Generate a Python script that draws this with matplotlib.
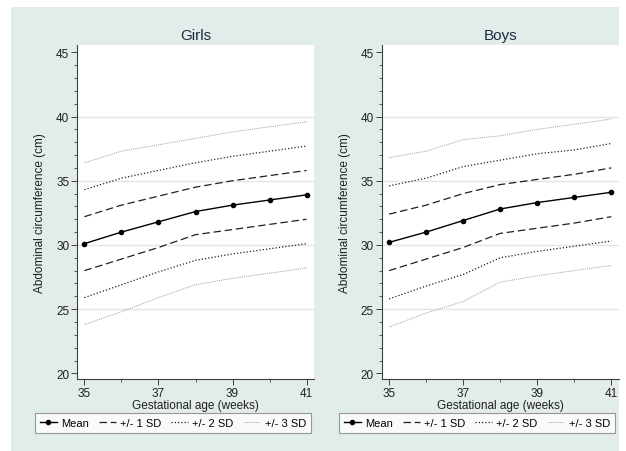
import matplotlib.pyplot as plt
import numpy as np
from matplotlib.patches import Rectangle

plt.rcParams['font.family'] = ['Liberation Sans', 'DejaVu Sans']

# gestational age (weeks)
weeks = [35, 36, 37, 38, 39, 40, 41]

# girls abdominal circumference (cm)
girls_mean = [30.1, 31.0, 31.8, 32.6, 33.1, 33.5, 33.9]
girls_p1 = [32.2, 33.1, 33.8, 34.5, 35.0, 35.4, 35.8]
girls_m1 = [28.0, 28.9, 29.8, 30.8, 31.2, 31.6, 32.0]
girls_p2 = [34.3, 35.2, 35.8, 36.4, 36.9, 37.3, 37.7]
girls_m2 = [25.9, 26.9, 27.9, 28.8, 29.3, 29.7, 30.1]
girls_p3 = [36.4, 37.3, 37.8, 38.3, 38.8, 39.2, 39.6]
girls_m3 = [23.8, 24.8, 25.9, 26.9, 27.4, 27.8, 28.2]

# boys abdominal circumference (cm)
boys_mean = [30.2, 31.0, 31.9, 32.8, 33.3, 33.7, 34.1]
boys_p1 = [32.4, 33.1, 34.0, 34.7, 35.1, 35.5, 36.0]
boys_m1 = [28.0, 28.9, 29.8, 30.9, 31.3, 31.7, 32.2]
boys_p2 = [34.6, 35.2, 36.1, 36.6, 37.1, 37.4, 37.9]
boys_m2 = [25.8, 26.8, 27.7, 29.0, 29.5, 29.9, 30.3]
boys_p3 = [36.8, 37.3, 38.2, 38.5, 39.0, 39.4, 39.8]
boys_m3 = [23.6, 24.7, 25.6, 27.1, 27.6, 28.0, 28.4]

W, H = 626, 452
fig = plt.figure(figsize=(W / 100, H / 100), dpi=100)
fig.patch.set_facecolor('white')
bg = Rectangle((11 / W, 0), 608 / W, 1 - 8 / H, transform=fig.transFigure,
               facecolor='#e2ecea', edgecolor='none', zorder=-10)
fig.patches.append(bg)

panels = [
    ('Girls', 77, girls_mean, girls_p1, girls_m1, girls_p2, girls_m2, girls_p3, girls_m3, 173),
    ('Boys', 381.7, boys_mean, boys_p1, boys_m1, boys_p2, boys_m2, boys_p3, boys_m3, 477),
]

for title, left, mean, p1, m1, p2, m2, p3, m3, lcx in panels:
    ax = fig.add_axes([left / W, 1 - 380 / H, 237 / W, 334 / H])
    ax.set_facecolor('white')
    ax.set_xlim(34.80, 41.20)
    ax.set_ylim(19.56, 45.57)

    for g in [25, 30, 35, 40]:
        ax.axhline(g, color='#eae4d8', lw=1.0, zorder=1)

    ax.plot(weeks, p3, color='#a0a0a0', lw=0.7, ls=(0, (1, 1)), zorder=2)
    ax.plot(weeks, m3, color='#a0a0a0', lw=0.7, ls=(0, (1, 1)), zorder=2)
    ax.plot(weeks, p2, color='#202020', lw=0.9, ls=(0, (1, 1.6)), zorder=2)
    ax.plot(weeks, m2, color='#202020', lw=0.9, ls=(0, (1, 1.6)), zorder=2)
    ax.plot(weeks, p1, color='#202020', lw=0.9, ls=(0, (6, 3)), zorder=2)
    ax.plot(weeks, m1, color='#202020', lw=0.9, ls=(0, (6, 3)), zorder=2)
    ax.plot(weeks, mean, color='black', lw=1.0, marker='o', ms=3, zorder=3)

    for s in ['top', 'right']:
        ax.spines[s].set_visible(False)
    for s in ['left', 'bottom']:
        ax.spines[s].set_color('#404040')
        ax.spines[s].set_linewidth(0.8)

    ax.set_yticks([20, 25, 30, 35, 40, 45])
    ax.set_yticks(np.arange(20, 46, 1), minor=True)
    ax.set_xticks([35, 37, 39, 41])
    ax.set_xticks([36, 38, 40], minor=True)
    ax.tick_params(axis='both', which='major', length=4, width=0.7, color='#404040',
                   labelsize=8.5, labelcolor='#202020', pad=1.5)
    ax.tick_params(axis='both', which='minor', length=2, width=0.6, color='#404040')

    ax.set_title(title, fontsize=11, color='#1c2a3e', pad=4)
    ax.set_xlabel('Gestational age (weeks)', fontsize=8.5, color='#202020', labelpad=0.5)
    ax.set_ylabel('Abdominal circumference (cm)', fontsize=8.5, color='#202020', labelpad=7)

    handles = [
        plt.Line2D([], [], color='black', lw=1.0, marker='o', ms=3),
        plt.Line2D([], [], color='#202020', lw=0.9, ls=(0, (6, 3))),
        plt.Line2D([], [], color='#202020', lw=0.9, ls=(0, (1, 1.6))),
        plt.Line2D([], [], color='#a0a0a0', lw=0.7, ls=(0, (1, 1))),
    ]
    labels = ['Mean', '+/- 1 SD', '+/- 2 SD', '+/- 3 SD']
    leg = fig.legend(handles, labels, loc='center', ncol=4,
                     bbox_to_anchor=(lcx / W, 1 - 424 / H),
                     fontsize=8, frameon=True, fancybox=False, handlelength=1.5,
                     handletextpad=0.4, columnspacing=0.9, borderpad=0.45,
                     borderaxespad=0)
    leg.get_frame().set_edgecolor('#808080')
    leg.get_frame().set_linewidth(0.8)

fig.savefig('out.png', dpi=100, facecolor=fig.get_facecolor())
